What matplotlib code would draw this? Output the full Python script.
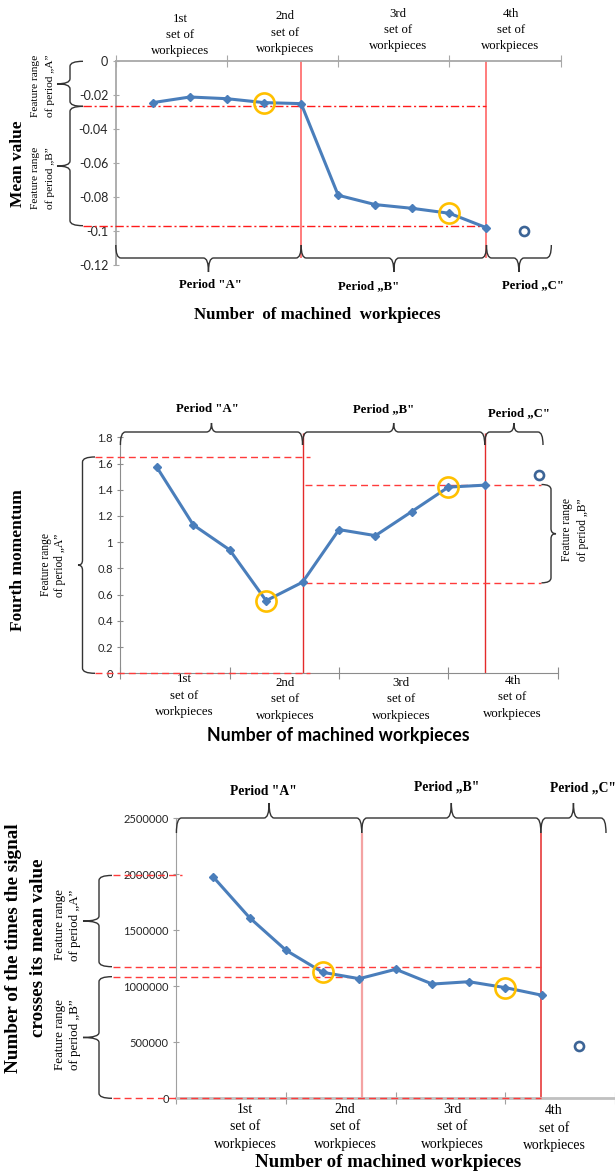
import matplotlib.pyplot as plt
from matplotlib.path import Path
from matplotlib.patches import PathPatch
from matplotlib.transforms import Affine2D

# ---- data ----
pos = [1, 2, 3, 4, 5, 6, 7, 8, 9, 10]
highlight = [3, 8]          # circled points (index)
period_bounds = [5, 10]     # red vertical lines (x position)

mean_vals = [-0.0243, -0.0210, -0.0220, -0.0243, -0.0249,
             -0.0788, -0.0843, -0.0865, -0.0894, -0.0979]
mean_extra_x, mean_extra_y = 11, -0.1000
mean_limits = [-0.0265, -0.0967]
mean_ticks = [0, -0.02, -0.04, -0.06, -0.08, -0.1, -0.12]

moment_vals = [1.572, 1.132, 0.941, 0.554, 0.695,
               1.096, 1.050, 1.234, 1.420, 1.435]
moment_extra_x, moment_extra_y = 11.5, 1.514
moment_range_a = [1.65, 0.0]
moment_range_b = [1.44, 0.69]
moment_ticks = [0, 0.2, 0.4, 0.6, 0.8, 1.0, 1.2, 1.4, 1.6, 1.8]

cross_vals = [1979000, 1613000, 1321000, 1125000, 1068000,
              1152000, 1020000, 1041000, 988000, 920000]
cross_extra_x, cross_extra_y = 11, 470000
cross_range_a = [1990000, 1175000]
cross_range_b = [1086000, 0]
cross_ticks = [0, 500000, 1000000, 1500000, 2000000, 2500000]

set_labels = ['1st\nset of\nworkpieces', '2nd\nset of\nworkpieces',
              '3rd\nset of\nworkpieces', '4th\nset of\nworkpieces']
period_labels = ['Period "A"', 'Period \u201eB"', 'Period \u201eC"']
range_a_label = 'Feature range\nof period \u201eA\u201d'
range_b_label = 'Feature range\nof period \u201eB\u201d'
x_title = 'Number of machined workpieces'

# ---- figure helpers (pixel space, origin top-left) ----
W, H = 615, 1173
fig = plt.figure(figsize=(W / 100, H / 100), dpi=100)
PX = Affine2D().scale(1 / W, -1 / H).translate(0, 1) + fig.transFigure
SERIF = 'Liberation Serif'
SANS = 'Lato'
BLUE = '#4A7EBB'
GOLD = '#FFC000'
BRACE = '#333333'


def make_axes(left, top, right, bottom):
    return fig.add_axes([left / W, 1 - bottom / H, (right - left) / W, (bottom - top) / H])


def xp(ax, x):
    return ax.transData.transform((x, 0))[0]


def yp(ax, y):
    return H - ax.transData.transform((0, y))[1]


def vbrace(x, y0, y1, tip, hook, r=5, lw=1.0):
    ym = (y0 + y1) / 2
    s = 1 if y1 > y0 else -1
    verts = [(hook, y0), (x, y0), (x, y0 + s * r), (x, ym - s * r), (x, ym), (tip, ym),
             (x, ym), (x, ym + s * r), (x, y1 - s * r), (x, y1), (hook, y1)]
    codes = [Path.MOVETO, Path.CURVE3, Path.CURVE3, Path.LINETO, Path.CURVE3, Path.CURVE3,
             Path.CURVE3, Path.CURVE3, Path.LINETO, Path.CURVE3, Path.CURVE3]
    fig.add_artist(PathPatch(Path(verts, codes), transform=PX, fill=False, lw=lw, ec=BRACE))


def hbrace(y, x0, x1, tip, hook, r=5, lw=1.0):
    xm = (x0 + x1) / 2
    verts = [(x0, hook), (x0, y), (x0 + r, y), (xm - r, y), (xm, y), (xm, tip),
             (xm, y), (xm + r, y), (x1 - r, y), (x1, y), (x1, hook)]
    codes = [Path.MOVETO, Path.CURVE3, Path.CURVE3, Path.LINETO, Path.CURVE3, Path.CURVE3,
             Path.CURVE3, Path.CURVE3, Path.LINETO, Path.CURVE3, Path.CURVE3]
    fig.add_artist(PathPatch(Path(verts, codes), transform=PX, fill=False, lw=lw, ec=BRACE))


def txt(x, y, s, size, weight='normal', family=SERIF, rot=0, ha='center', ls=1.15):
    fig.text(x, y, s, transform=PX, fontsize=size, fontweight=weight, family=family,
             rotation=rot, ha=ha, va='center', linespacing=ls, multialignment='center')


def style_axes(ax, ticks, labels, size, spine_color, xside):
    ax.set_xlim(0, 12)
    ax.set_xticks([0, 3, 6, 9, 12])
    ax.set_xticklabels([])
    ax.set_yticks(ticks)
    ax.set_yticklabels(labels, family=SANS, fontsize=size, color='#262626')
    for s in ['top', 'bottom', 'right', 'left']:
        ax.spines[s].set_visible(s in ('left', xside))
        ax.spines[s].set_color(spine_color)
    if xside == 'top':
        ax.xaxis.tick_top()
    ax.tick_params(axis='x', direction='inout', length=8, color=spine_color)
    ax.tick_params(axis='y', direction='inout', length=5, color=spine_color, pad=3)
    ax.patch.set_alpha(0)


def draw_series(ax, vals, ex, ey):
    ax.plot(pos, vals, color=BLUE, lw=2.2, marker='D', ms=4.5, zorder=5, clip_on=False)
    ax.plot([ex], [ey], ls='none', marker='o', ms=6.5, mfc='none', mec='#3C6496', mew=1.9,
            zorder=5, clip_on=False)
    ax.plot([pos[i] for i in highlight], [vals[i] for i in highlight], ls='none', marker='o',
            ms=14.5, mfc='none', mec=GOLD, mew=1.9, zorder=6, clip_on=False)


# ================= panel 1 : mean value =================
ax1 = make_axes(115.8, 61.3, 560.6, 265.3)
ax1.set_ylim(-0.12, 0)
style_axes(ax1, mean_ticks, [f'{v:g}' for v in mean_ticks], 9, '#A8A8A8', 'top')
for s in ['left', 'top']:
    ax1.spines[s].set_linewidth(1.3)
ax1.vlines(period_bounds, -0.1157, 0, colors='#FF7C7C', lw=1.4, clip_on=False, zorder=2)
ax1.hlines(mean_limits, -0.88, 10, colors='#FF1A1A', lw=1.0, linestyles=(0, (6, 2, 1.5, 2)),
           clip_on=False, zorder=3)
draw_series(ax1, mean_vals, mean_extra_x, mean_extra_y)

vbrace(70, yp(ax1, 0), yp(ax1, mean_limits[0]), 57, 83)
vbrace(70, yp(ax1, mean_limits[0]), yp(ax1, mean_limits[1]), 57, 83)
txt(43, 86, range_a_label, 8.2, rot=90, ls=1.6)
txt(43, 178, range_b_label, 8.2, rot=90, ls=1.6)
txt(18, 164, 'Mean value', 12.5, 'bold', rot=90)

b1 = [xp(ax1, 0), xp(ax1, period_bounds[0]), xp(ax1, period_bounds[1]), xp(ax1, 11.75)]
for i in range(3):
    hbrace(258, b1[i], b1[i + 1], 272, 245)
for (x, y), s in zip([(180, 35), (285.5, 32.5), (398, 30), (510.6, 30)], set_labels):
    txt(x, y, s, 9.2, ls=1.45)
for (x, y), s in zip([(210, 285), (369, 286), (533, 285)], period_labels):
    txt(x, y, s, 9.2, 'bold')
txt(317, 315, 'Number  of machined  workpieces', 12.2, 'bold')

# ================= panel 2 : fourth momentum =================
ax2 = make_axes(120.4, 437.3, 557.6, 673.3)
ax2.set_ylim(0, 1.8)
style_axes(ax2, moment_ticks, [f'{round(v, 1):g}' for v in moment_ticks], 8, '#8C8C8C', 'bottom')
ax2.vlines(period_bounds, 0, 1.83, colors='#E42A2A', lw=1.0, clip_on=False, zorder=2)
ax2.hlines(moment_range_a, -0.70, 5.2, colors='#FF3B3B', lw=1.0, linestyles=(0, (5, 3)),
           clip_on=False, zorder=3)
ax2.hlines(moment_range_b, 5.06, 11.55, colors='#FF3B3B', lw=1.0, linestyles=(0, (5, 3)),
           clip_on=False, zorder=3)
draw_series(ax2, moment_vals, moment_extra_x, moment_extra_y)

vbrace(82.5, yp(ax2, moment_range_a[0]), yp(ax2, moment_range_a[1]), 78, 95)
vbrace(551, yp(ax2, moment_range_b[0]), yp(ax2, moment_range_b[1]), 556, 541.5)
txt(53, 565, range_a_label, 8.3, rot=90, ls=1.2)
txt(575, 529.5, range_b_label, 8.3, rot=90, ls=1.35)
txt(18, 560, 'Fourth momentum', 12.5, 'bold', rot=90)

b2 = [xp(ax2, 0), xp(ax2, period_bounds[0]), xp(ax2, period_bounds[1]), 543]
for i in range(3):
    hbrace(432, b2[i], b2[i + 1], 423, 445)
for (x, y), s in zip([(207, 409), (383.5, 409), (518.5, 413)], period_labels):
    txt(x, y, s, 9.2, 'bold')
for (x, y), s in zip([(184, 696), (285, 699), (401, 699), (512.5, 697)], set_labels):
    txt(x, y, s, 9.3, ls=1.5)
txt(338, 735, x_title, 12.8, 'bold', family=SANS)

# ================= panel 3 : zero crossings =================
ax3 = make_axes(176.4, 818.3, 176.4 + 12 * 36.56, 1098.3)
ax3.set_ylim(0, 2500000)
style_axes(ax3, cross_ticks, [f'{v:d}' for v in cross_ticks], 8, '#A0A0A0', 'bottom')
ax3.spines['left'].set_linewidth(0.8)
ax3.spines['bottom'].set_color('#C0C0C0')
ax3.spines['bottom'].set_linewidth(2)
ax3.vlines([5.07], 0, 2370000, colors='#F4A3A3', lw=1.6, clip_on=False, zorder=2)
ax3.vlines([9.97], 0, 2370000, colors='#E42A2A', lw=1.1, clip_on=False, zorder=2)
ax3.hlines([cross_range_a[0]], -1.73, 0.14, colors='#FF3B3B', lw=1.0,
           linestyles=(0, (5, 3)), clip_on=False, zorder=3)
ax3.hlines([cross_range_a[1], cross_range_b[1]], -1.73, 9.97, colors='#FF3B3B', lw=1.0,
           linestyles=(0, (5, 3)), clip_on=False, zorder=3)
ax3.hlines([cross_range_b[0]], -1.73, 5.07, colors='#FF3B3B', lw=1.0,
           linestyles=(0, (5, 3)), clip_on=False, zorder=3)
draw_series(ax3, cross_vals, cross_extra_x, cross_extra_y)

vbrace(99, yp(ax3, cross_range_a[0]), yp(ax3, cross_range_a[1]), 83, 112)
vbrace(99, yp(ax3, cross_range_b[0]), yp(ax3, cross_range_b[1]), 83, 112)
txt(67.5, 925, range_a_label, 9.4, rot=90, ls=1.3)
txt(67.5, 1035, range_b_label, 9.4, rot=90, ls=1.3)
txt(26, 948, 'Number of the times the signal\ncrosses its mean value', 13.8, 'bold',
    rot=90, ls=1.65)

b3 = [xp(ax3, 0), xp(ax3, 5.07), xp(ax3, 9.97), 606]
for i in range(3):
    hbrace(818, b3[i], b3[i + 1], 803, 833)
txt(263.5, 791.7, period_labels[0], 9.8, 'bold')
txt(447, 786.7, period_labels[1], 9.8, 'bold')
txt(550, 788, period_labels[2], 9.8, 'bold', ha='left')
for (x, y), s in zip([(245, 1127), (345, 1127), (452, 1127), (554, 1128)], set_labels):
    txt(x, y, s, 9.9, ls=1.45)
txt(388, 1162.7, x_title, 13.6, 'bold')

fig.savefig('out.png', dpi=100)
